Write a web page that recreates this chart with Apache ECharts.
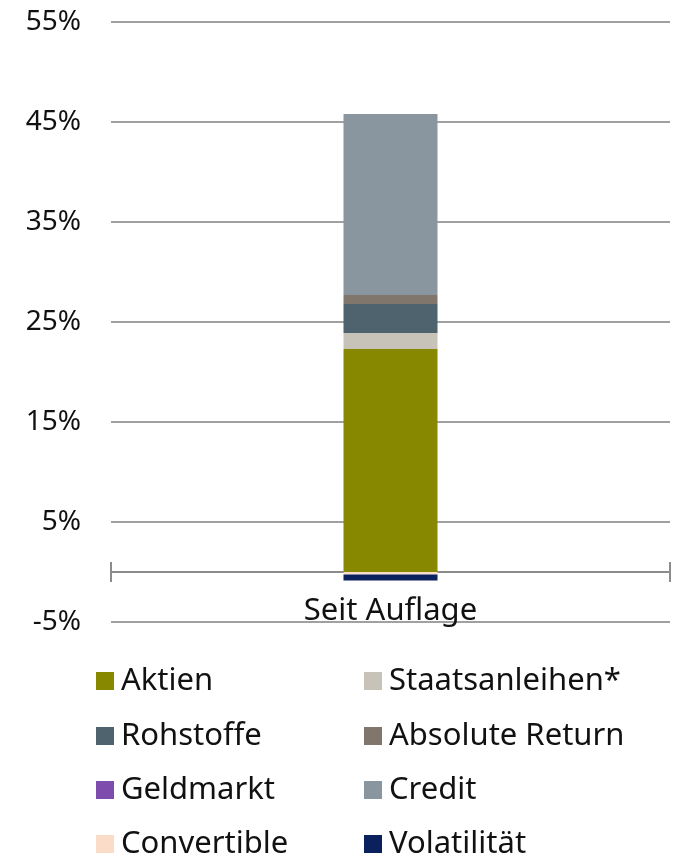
<!DOCTYPE html>
<html><head><meta charset="utf-8">
<script src="https://cdn.jsdelivr.net/npm/echarts@6/dist/echarts.min.js"></script>
<style>html,body{margin:0;padding:0;background:#fff}#c{width:676px;height:857px}</style>
</head><body><div id="c"></div>
<script>
const categories = ['Seit Auflage'];
const seriesNames = ['Aktien','Staatsanleihen*','Rohstoffe','Absolute Return','Geldmarkt','Credit','Convertible','Volatilität'];
const aktien = [22.3];
const staatsanleihen = [1.6];
const rohstoffe = [2.9];
const absoluteReturn = [0.9];
const geldmarkt = [0];
const credit = [18.1];
const convertible = [-0.25];
const volatilitaet = [-0.6];
const yMin = -5, yMax = 55, yStep = 10;

const seriesValues = [aktien, staatsanleihen, rohstoffe, absoluteReturn, geldmarkt, credit, convertible, volatilitaet];
const colors = ['#878800','#c7c3b8','#4e636d','#80766c','#7e4cad','#8996a0','#fbdcc8','#0b215e'];
const FONT = 'Noto Sans';

const legendCols = [96, 364];
const legendRows = [681, 736, 790, 844];
const legends = seriesNames.map((n, i) => ({
  data: [n],
  left: legendCols[i % 2],
  top: legendRows[Math.floor(i / 2)] - 16,
  padding: 0,
  itemWidth: 18, itemHeight: 18,
  itemStyle: {borderWidth: 0},
  icon: 'rect',
  selectedMode: false,
  textStyle: {fontFamily: FONT, fontSize: 31, lineHeight: 32, color: '#111', padding: [0,0,0,2]}
}));

const chart = echarts.init(document.getElementById('c'), null, {renderer: 'canvas'});
chart.setOption({
  animation: false,
  color: colors,
  grid: {left: 111, right: 6, top: 22, bottom: 235, containLabel: false},
  legend: legends,
  xAxis: [{
    type: 'category', data: categories,
    axisLine: {show: true, onZero: true, lineStyle: {color: '#8c8c8c', width: 2}},
    axisTick: {show: true, inside: false, length: 10, lineStyle: {color: '#8c8c8c', width: 2}},
    axisLabel: {fontFamily: FONT, fontSize: 31, color: '#111', margin: -26}
  }, {
    type: 'category', data: categories, position: 'bottom',
    axisLine: {show: false, onZero: true, onZeroAxisIndex: 1},
    axisTick: {show: true, inside: true, length: 10, lineStyle: {color: '#8c8c8c', width: 2}},
    axisLabel: {show: false}
  }],
  yAxis: [{
    type: 'value', min: yMin, max: yMax, interval: yStep,
    axisLine: {show: false}, axisTick: {show: false},
    splitLine: {show: true, lineStyle: {color: '#a0a0a0', width: 2}},
    axisLabel: {fontFamily: FONT, fontSize: 28, color: '#111', margin: 30, formatter: '{value}%'}
  }, {
    type: 'value', min: yMin, max: yMax, interval: yStep, show: false
  }],
  series: seriesNames.map((n, i) => ({
    name: n, type: 'bar', stack: 'total', barWidth: 94,
    data: seriesValues[i],
    itemStyle: {color: colors[i]}
  }))
});
</script>
</body></html>
